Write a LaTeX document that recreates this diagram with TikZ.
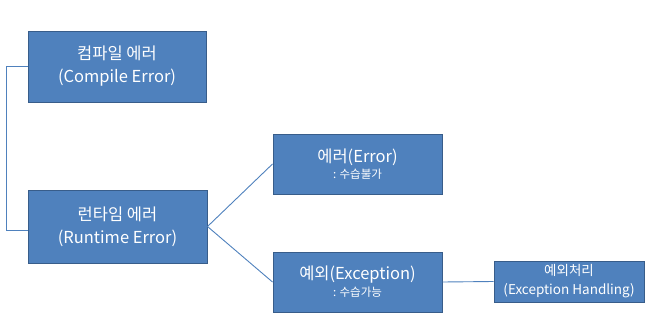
\documentclass[tikz,border=0pt]{standalone}
\usepackage{fontspec}
\setmainfont{Noto Sans CJK KR}
\usepackage{tikz}
\usetikzlibrary{calc}
\definecolor{boxfill}{HTML}{4F81BD}
\definecolor{boxline}{HTML}{385D8A}

\begin{document}
\begin{tikzpicture}[x=1pt,y=-1pt,
    errbox/.style={draw=boxline,line width=1pt,fill=boxfill,text=white,
      align=center,inner sep=0pt,font=\fontsize{16.5}{23}\selectfont},
    link/.style={draw=boxfill,line width=0.9pt}]
  \useasboundingbox (0,0) rectangle (659,332);
  \node[errbox,minimum width=178pt,minimum height=71pt] (compile) at (117,66.5)
    {컴파일 에러\\(Compile Error)};
  \node[errbox,minimum width=179pt,minimum height=73pt] (runtime) at (117.5,226.5)
    {런타임 에러\\(Runtime Error)};
  \node[errbox,minimum width=169pt,minimum height=60pt] (error) at (357.5,164)
    {에러(Error)\\[-7pt]{\fontsize{11.5}{13}\selectfont : 수습불가}};
  \node[errbox,minimum width=169pt,minimum height=60pt] (exception) at (357.5,282)
    {예외(Exception)\\[-6pt]{\fontsize{11.5}{13}\selectfont : 수습가능}};
  \node[errbox,minimum width=150pt,minimum height=41pt,
    font=\fontsize{13.5}{19}\selectfont] (handling) at (569,281.5)
    {예외처리\\(Exception Handling)};
  \draw[link] (compile.west) -- ++(-21,0) |- ($(runtime.west)+(0,3.5)$);
  \draw[link] (runtime.east) -- (error.west);
  \draw[link] (runtime.east) -- (exception.west);
  \draw[link] (exception.east) -- (handling.west);
\end{tikzpicture}
\end{document}
